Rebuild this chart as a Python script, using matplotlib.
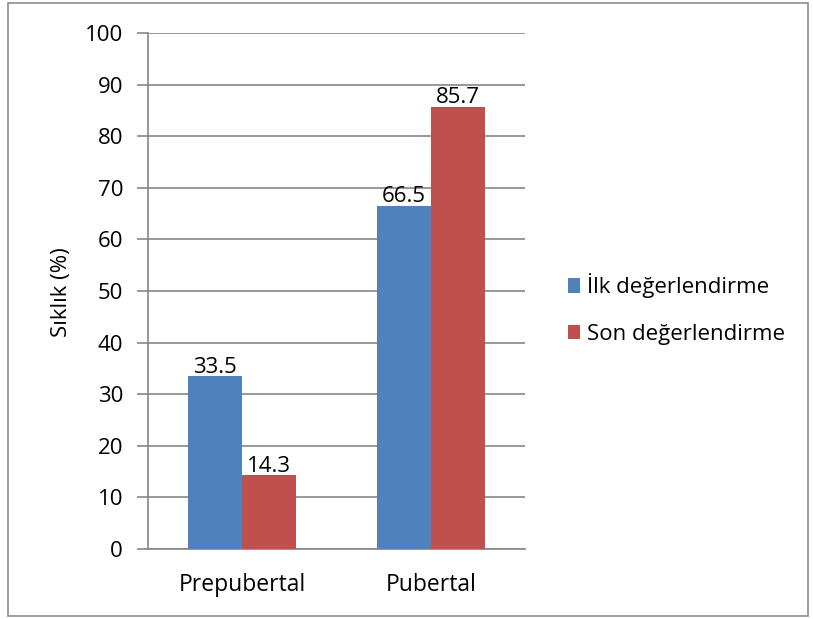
import matplotlib
matplotlib.use("Agg")
import matplotlib.pyplot as plt
from matplotlib.patches import Rectangle

categories = ["Prepubertal", "Pubertal"]
series_names = ["İlk değerlendirme", "Son değerlendirme"]
ilk_values = [33.5, 66.5]
son_values = [14.3, 85.7]
y_ticks = [0, 10, 20, 30, 40, 50, 60, 70, 80, 90, 100]
y_label = "Sıklık (%)"

colors = ["#4F81BD", "#C0504D"]
grid_color = "#868686"

plt.rcParams["font.family"] = ["Open Sans", "DejaVu Sans"]

W, H = 813, 619
fig = plt.figure(figsize=(W / 100, H / 100), dpi=100)
fig.patch.set_facecolor("white")

# outer chart frame
fig.patches.append(Rectangle((8 / W, 1 - 616 / H), 800 / W, 613 / H,
                             transform=fig.transFigure, fill=False,
                             edgecolor="#8c8c8c", linewidth=1.2))

ax = fig.add_axes([148 / W, 1 - 549 / H, 377 / W, 516 / H])

bw = 54 / 188.5
x = list(range(len(categories)))
for i, (vals, name, c) in enumerate(zip([ilk_values, son_values], series_names, colors)):
    pos = [xi + (i - 0.5) * bw for xi in x]
    bars = ax.bar(pos, vals, width=bw, color=c, label=name, zorder=3)
    for b, v in zip(bars, vals):
        ax.text(b.get_x() + b.get_width() / 2, v - 0.3, f"{v:.1f}",
                ha="center", va="bottom", fontsize=16, color="black", zorder=4)

ax.set_xlim(-0.5, 1.5)
ax.set_ylim(0, 100)
ax.set_yticks(y_ticks)
ax.set_yticklabels([str(t) for t in y_ticks], fontsize=16)
ax.set_xticks(x)
ax.set_xticklabels(categories, fontsize=16.5)
ax.tick_params(axis="x", length=0, pad=17)
ax.tick_params(axis="y", length=8, width=1.2, color=grid_color, pad=10)
ax.yaxis.grid(True, color=grid_color, linewidth=1.2, zorder=0)
ax.set_axisbelow(True)
for s in ["top", "right"]:
    ax.spines[s].set_visible(False)
for s in ["left", "bottom"]:
    ax.spines[s].set_color(grid_color)
    ax.spines[s].set_linewidth(1.2)

fig.text(62 / W, 1 - 292 / H, y_label, rotation=90, ha="center", va="center", fontsize=16)

leg = fig.legend(loc="center left", bbox_to_anchor=(548 / W, 1 - 309 / H),
                 frameon=False, fontsize=16, handlelength=0.55, handleheight=0.65,
                 handletextpad=0.3, labelspacing=1.15)

fig.savefig("out.png", dpi=100)
